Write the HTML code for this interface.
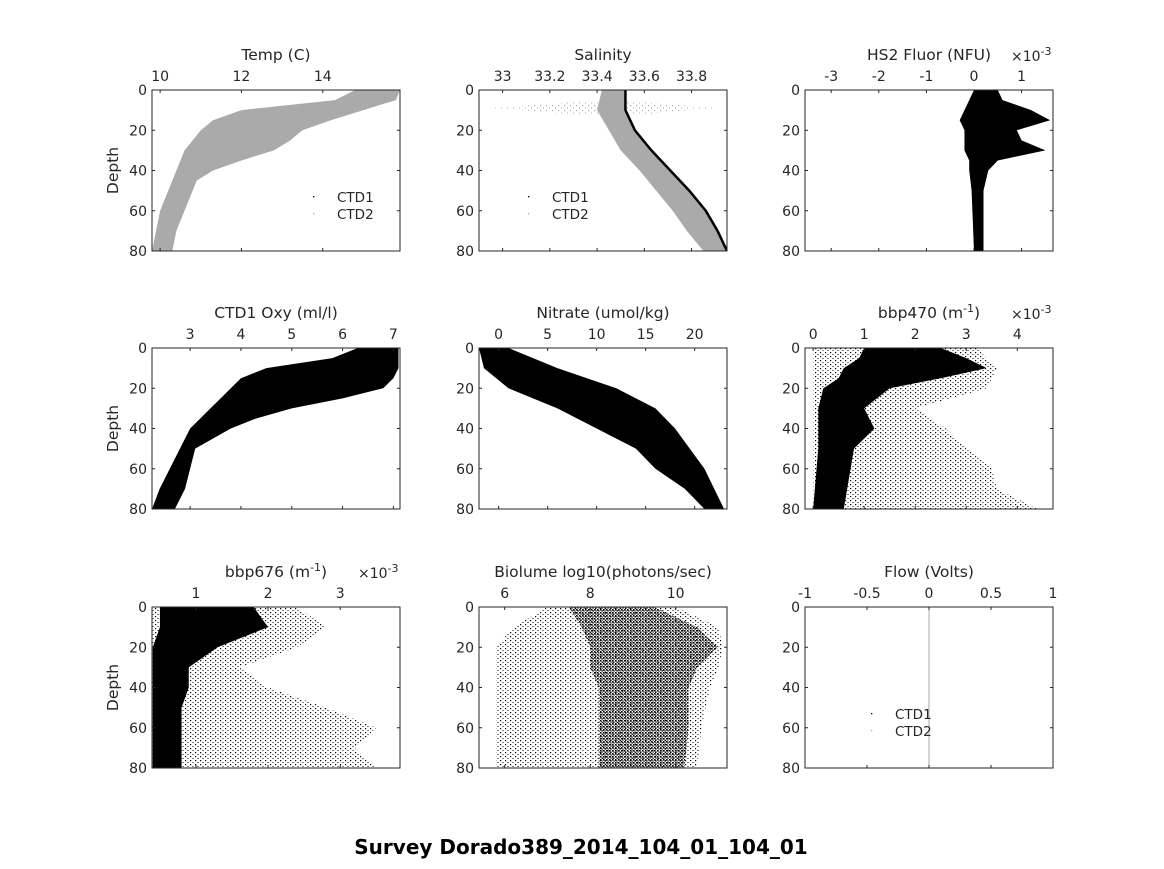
<!DOCTYPE html>
<html><head><meta charset="utf-8"><style>
body{margin:0;background:#fff;}
svg text{font-family:"DejaVu Sans","Liberation Sans",sans-serif;fill:#262626;}
</style></head><body>
<svg id="fig" width="1164" height="864" xmlns="http://www.w3.org/2000/svg">
<defs>
<pattern id="dots" width="3" height="3" patternUnits="userSpaceOnUse"><rect x="0" y="0" width="1.6" height="1.6" fill="#000"/><rect x="1.5" y="1.5" width="1.2" height="1.2" fill="#000"/></pattern>
<pattern id="dots2" width="5" height="4" patternUnits="userSpaceOnUse"><rect x="0" y="0" width="1.2" height="1.2" fill="#000"/><rect x="2.5" y="2" width="1" height="1" fill="#000"/></pattern>
<pattern id="dots3" width="6" height="5" patternUnits="userSpaceOnUse"><rect x="0" y="0" width="1.2" height="1.2" fill="#aaa"/><rect x="3" y="2.5" width="1" height="1" fill="#aaa"/></pattern>
</defs>
<text x="581" y="854" text-anchor="middle" font-size="20" font-weight="bold" style="fill:#000">Survey Dorado389_2014_104_01_104_01</text>
</svg>
<script>
const depthTicks=[0,20,40,60,80];
const tempDepth=[0,5,10,15,20,25,30,35,40,45,50,60,70,80];
const tempLo=[14.8,14.3,12.0,11.3,11.0,10.8,10.6,10.5,10.4,10.3,10.2,10.0,9.9,9.8];
const tempHi=[15.9,15.8,15.0,14.2,13.5,13.2,12.8,12.0,11.3,10.9,10.8,10.6,10.4,10.3];
const salDepth=[0,10,20,30,40,50,60,70,80];
const salLo=[33.42,33.40,33.45,33.50,33.58,33.65,33.72,33.78,33.85];
const salHi=[33.52,33.52,33.56,33.63,33.71,33.79,33.86,33.91,33.95];
const salSprayDepth=[6,9,12];
const salSprayLo=[33.3,32.95,33.3];
const salSprayHi=[33.6,33.9,33.6];
const fluDepth=[0,5,10,15,20,25,30,35,40,50,80];
const fluLo=[0,-0.1,-0.2,-0.3,-0.2,-0.2,-0.2,-0.1,-0.1,-0.05,0];
const fluHi=[0.5,0.6,1.2,1.6,0.9,1.0,1.5,0.5,0.3,0.2,0.2];
const oxyDepth=[0,5,10,15,20,25,30,35,40,50,60,70,80];
const oxyLo=[6.3,5.8,4.5,4.0,3.8,3.6,3.4,3.2,3.0,2.8,2.6,2.4,2.25];
const oxyHi=[7.1,7.1,7.1,7.0,6.8,6.0,5.0,4.3,3.8,3.1,3.0,2.9,2.7];
const nitDepth=[0,10,20,30,40,50,60,70,80];
const nitLo=[-2,-1.5,1,6,10,14,16,19,21];
const nitHi=[1,6,12,16,18,19.5,21,22,23];
const b470Depth=[0,5,10,15,20,30,40,50,80];
const b470Lo=[1.0,0.9,0.6,0.5,0.2,0.1,0.1,0.1,0];
const b470Hi=[2.5,3.0,3.4,2.5,1.5,1.0,1.2,0.8,0.6];
const b470SpDepth=[0,10,20,30,40,50,60,70,80];
const b470SpHi=[3.2,3.6,3.4,2.0,2.6,3.0,3.5,3.6,4.4];
const b676Depth=[0,10,20,30,40,50,80];
const b676Lo=[0.5,0.5,0.4,0.4,0.4,0.4,0.4];
const b676Hi=[1.8,2.0,1.3,0.9,0.9,0.8,0.8];
const b676SpDepth=[0,10,20,30,40,50,60,70,80];
const b676SpHi=[2.4,2.8,2.4,1.6,2.0,2.8,3.5,3.2,3.5];
const bioDepth=[0,10,20,30,40,60,80];
const bioLo=[7.5,7.8,8.0,8.0,8.2,8.2,8.2];
const bioHi=[9.5,10.5,11.0,10.5,10.3,10.3,10.2];
const bioSpLo=[7.0,6.2,5.8,5.8,5.8,5.8,5.8];
const bioSpHi=[10.0,11.0,11.1,11.0,10.8,10.6,10.5];
const flowX=[0];

const NS="http://www.w3.org/2000/svg";
const svg=document.getElementById('fig');
function mk(tag,attrs,parent){const e=document.createElementNS(NS,tag);for(const k in attrs)e.setAttribute(k,attrs[k]);(parent||svg).appendChild(e);return e;}
const cols=[152,479,805], rows=[90,348,607], W=248, H=161;
const panels=[
 {c:0,r:0,name:'temp',title:'Temp (C)',xmin:9.8,xmax:15.9,ticks:[10,12,14],bands:[[tempDepth,tempLo,tempHi,'#aaaaaa']],legend:true,depthLabel:true},
 {c:1,r:0,name:'salinity',title:'Salinity',xmin:32.9,xmax:33.95,ticks:[33,33.2,33.4,33.6,33.8],bands:[[salSprayDepth,salSprayLo,salSprayHi,'url(#dots3)'],[salDepth,salLo,salHi,'#aaaaaa']],legend:true,edge:true},
 {c:2,r:0,name:'fluor',title:'HS2 Fluor (NFU)',xmin:-3.55,xmax:1.66,ticks:[-3,-2,-1,0,1],bands:[[fluDepth,fluLo,fluHi,'#000']],mult:true},
 {c:0,r:1,name:'oxygen',title:'CTD1 Oxy (ml/l)',xmin:2.25,xmax:7.13,ticks:[3,4,5,6,7],bands:[[oxyDepth,oxyLo,oxyHi,'#000']],depthLabel:true},
 {c:1,r:1,name:'nitrate',title:'Nitrate (umol/kg)',xmin:-2,xmax:23.3,ticks:[0,5,10,15,20],bands:[[nitDepth,nitLo,nitHi,'#000']]},
 {c:2,r:1,name:'bbp470',title:'bbp470 (m<sup>-1</sup>)',xmin:-0.16,xmax:4.7,ticks:[0,1,2,3,4],bands:[[b470SpDepth,b470SpDepth.map(()=>0),b470SpHi,'url(#dots2)'],[b470Depth,b470Lo,b470Hi,'#000']],mult:true},
 {c:0,r:2,name:'bbp676',title:'bbp676 (m<sup>-1</sup>)',xmin:0.39,xmax:3.83,ticks:[1,2,3],bands:[[b676SpDepth,b676SpDepth.map(()=>0.4),b676SpHi,'url(#dots2)'],[b676Depth,b676Lo,b676Hi,'#000']],mult:true,depthLabel:true},
 {c:1,r:2,name:'biolume',title:'Biolume log10(photons/sec)',xmin:5.4,xmax:11.2,ticks:[6,8,10],bands:[[bioDepth,bioSpLo,bioSpHi,'url(#dots2)'],[bioDepth,bioLo,bioHi,'url(#dots)']]},
 {c:2,r:2,name:'flow',title:'Flow (Volts)',xmin:-1,xmax:1,ticks:[-1,-0.5,0,0.5,1],bands:[],legend:true,flow:true}
];
panels.forEach(p=>{
 const L=cols[p.c],T=rows[p.r];
 const g=mk('g',{});
 
 
 const sx=v=>L+(v-p.xmin)/(p.xmax-p.xmin)*W;
 const sy=d=>T+d/80*H;
 const clip=mk('clipPath',{id:'cl'+p.name},g);mk('rect',{x:L,y:T,width:W,height:H},clip);
 const pg=mk('g',{'clip-path':'url(#cl'+p.name+')'},g);
 p.bands.forEach(b=>{
  const [dep,lo,hi,col]=b;
  let pts=dep.map((d,i)=>sx(hi[i])+','+sy(d));
  pts=pts.concat(dep.map((d,i)=>sx(lo[i])+','+sy(d)).reverse());
  const poly=mk('polygon',{points:pts.join(' '),fill:col},pg);
  
  
  if(p.edge&&col[0]=='#'){const ed=mk('polyline',{points:dep.map((d,i)=>sx(hi[i])+','+sy(d)).join(' '),fill:'none',stroke:'#000','stroke-width':2.5},pg);}
 });
 if(p.flow){flowX.forEach(v=>{const ln=mk('line',{x1:sx(v),x2:sx(v),y1:T,y2:T+H,stroke:'#aaa','stroke-width':1},pg);});}
 const fr=mk('rect',{x:L,y:T,width:W,height:H,fill:'none',stroke:'#262626','stroke-width':1},g);
 
 
 p.ticks.forEach(t=>{
  const x=sx(t);
  mk('line',{x1:x,x2:x,y1:T,y2:T+3,stroke:'#262626'},g);
  mk('line',{x1:x,x2:x,y1:T+H,y2:T+H-3,stroke:'#262626'},g);
  const tx=mk('text',{x:x,y:T-9,'text-anchor':'middle','font-size':14},g);tx.textContent=t;
  
  
 });
 depthTicks.forEach(d=>{
  const y=sy(d);
  mk('line',{x1:L,x2:L+3,y1:y,y2:y,stroke:'#262626'},g);
  mk('line',{x1:L+W,x2:L+W-3,y1:y,y2:y,stroke:'#262626'},g);
  const tx=mk('text',{x:L-5,y:y+5,'text-anchor':'end','font-size':14},g);tx.textContent=d;
  
  
 });
 const tt=mk('text',{x:L+W/2,y:T-30,'text-anchor':'middle','font-size':15.5},g);tt.innerHTML=p.title.replace('<sup>','<tspan dy="-6" font-size="11">').replace('</sup>','</tspan><tspan dy="6">');
 
 
 if(p.mult){const m=mk('text',{x:L+W-42,y:T-29,'font-size':14},g);m.innerHTML='×10<tspan dy="-6" font-size="11">-3</tspan>';}
 if(p.depthLabel){const dl=mk('text',{x:L-34,y:T+H/2,'text-anchor':'middle','font-size':15.5,transform:'rotate(-90 '+(L-34)+' '+(T+H/2)+')'},g);dl.textContent='Depth';}
 if(p.legend){
  const lx=p.flow?L+90:(p.c==1?L+73:L+185), ly=T+111;
  const lg=mk('g',{},g);
  
  
  mk('rect',{x:lx-24,y:ly-5,width:1.3,height:1.3,fill:'#000'},lg);
  mk('rect',{x:lx-24,y:ly+12,width:1.3,height:1.3,fill:'#aaa'},lg);
  const a=mk('text',{x:lx,y:ly+1,'font-size':13.5},lg);a.textContent='CTD1';
  const b=mk('text',{x:lx,y:ly+18,'font-size':13.5},lg);b.textContent='CTD2';
 }
});
</script>
</body></html>
